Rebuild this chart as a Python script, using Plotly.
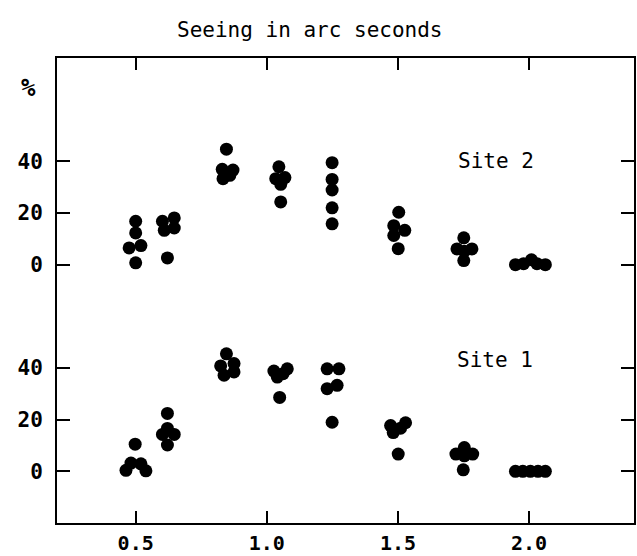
import plotly.graph_objects as go

# Seeing bins (arc seconds): 0.5, 0.625, 0.85, 1.05, 1.25, 1.5, 1.75, 2.0 ; five points each
site2_x = [0.5, 0.5, 0.475, 0.52, 0.5,
           0.602, 0.647, 0.609, 0.647, 0.621,
           0.846, 0.83, 0.871, 0.833, 0.859,
           1.046, 1.034, 1.069, 1.053, 1.053,
           1.249, 1.249, 1.249, 1.249, 1.249,
           1.503, 1.484, 1.526, 1.484, 1.501,
           1.751, 1.725, 1.782, 1.753, 1.751,
           1.948, 1.979, 2.009, 2.030, 2.062]
site2_pct = [16.8, 12.3, 6.5, 7.4, 0.7,
             16.8, 18.1, 13.3, 14.2, 2.6,
             44.7, 36.9, 36.6, 33.3, 34.6,
             37.9, 33.3, 33.7, 31.1, 24.3,
             39.5, 33.0, 28.9, 22.0, 15.8,
             20.3, 15.1, 13.3, 11.3, 6.2,
             10.4, 6.1, 6.1, 5.2, 1.6,
             0.0, 0.4, 1.9, 0.4, 0.0]

site1_x = [0.498, 0.463, 0.482, 0.52, 0.539,
           0.621, 0.602, 0.647, 0.621, 0.621,
           0.846, 0.824, 0.875, 0.837, 0.875,
           1.027, 1.04, 1.078, 1.062, 1.049,
           1.230, 1.275, 1.230, 1.268, 1.249,
           1.472, 1.529, 1.51, 1.482, 1.501,
           1.753, 1.721, 1.785, 1.753, 1.749,
           1.948, 1.976, 2.005, 2.034, 2.062]
site1_pct = [10.5, 0.4, 3.2, 2.9, 0.2,
             22.4, 14.3, 14.3, 16.6, 10.2,
             45.5, 40.8, 41.7, 37.2, 38.5,
             38.8, 36.5, 39.7, 37.8, 28.6,
             39.7, 39.7, 32.0, 33.3, 19.0,
             17.7, 18.8, 16.7, 15.0, 6.7,
             9.2, 6.7, 6.7, 6.0, 0.6,
             0.0, 0.0, 0.0, 0.0, 0.0]

x_ticks = [0.5, 1.0, 1.5, 2.0]
x_ticktext = ["0.5", "1.0", "1.5", "2.0"]
y_ticks = [0, 20, 40]
site2_offset = 80

FONT = "DejaVu Sans Mono"

fig = go.Figure()
fig.add_trace(go.Scatter(x=site1_x, y=site1_pct, mode="markers",
                         marker=dict(size=13, color="black"), showlegend=False))
fig.add_trace(go.Scatter(x=site2_x, y=[v + site2_offset for v in site2_pct], mode="markers",
                         marker=dict(size=13, color="black"), showlegend=False))

yvals = y_ticks + [v + site2_offset for v in y_ticks]
ytext = ["<b>%s</b>" % v for v in y_ticks] * 2

fig.update_layout(
    width=637, height=556,
    margin=dict(l=57, r=3, t=58, b=33),
    paper_bgcolor="white", plot_bgcolor="white",
    font=dict(family=FONT, size=20, color="black"),
    xaxis=dict(range=[0.2, 2.4], tickvals=x_ticks,
               ticktext=["<b>%s</b>" % t for t in x_ticktext],
               ticks="inside", ticklen=12, tickwidth=2, tickcolor="black",
               showline=True, linewidth=2, linecolor="black", mirror="ticks",
               showgrid=False, zeroline=False, ticklabelstandoff=1,
               automargin=False,
               tickfont=dict(family=FONT, size=20)),
    yaxis=dict(range=[-20, 160], tickvals=yvals, ticktext=ytext,
               ticks="inside", ticklen=13, tickwidth=2, tickcolor="black",
               showline=True, linewidth=2, linecolor="black", mirror="ticks",
               showgrid=False, zeroline=False, ticklabelstandoff=8,
               automargin=False,
               tickfont=dict(family=FONT, size=21)),
    annotations=[
        dict(text="Seeing in arc seconds", xref="paper", yref="paper",
             x=0.438, y=1.06, xanchor="center", yanchor="middle",
             showarrow=False, font=dict(family=FONT, size=21)),
        dict(text="<b>%</b>", xref="paper", yref="y", x=-0.05, y=148.4,
             xanchor="center", yanchor="middle", showarrow=False,
             font=dict(family=FONT, size=24)),
        dict(text="Site 2", xref="x", yref="y", x=1.873, y=120,
             xanchor="center", yanchor="middle", showarrow=False,
             font=dict(family=FONT, size=21)),
        dict(text="Site 1", xref="x", yref="y", x=1.869, y=43,
             xanchor="center", yanchor="middle", showarrow=False,
             font=dict(family=FONT, size=21)),
    ],
)

fig.write_html("out.html")
